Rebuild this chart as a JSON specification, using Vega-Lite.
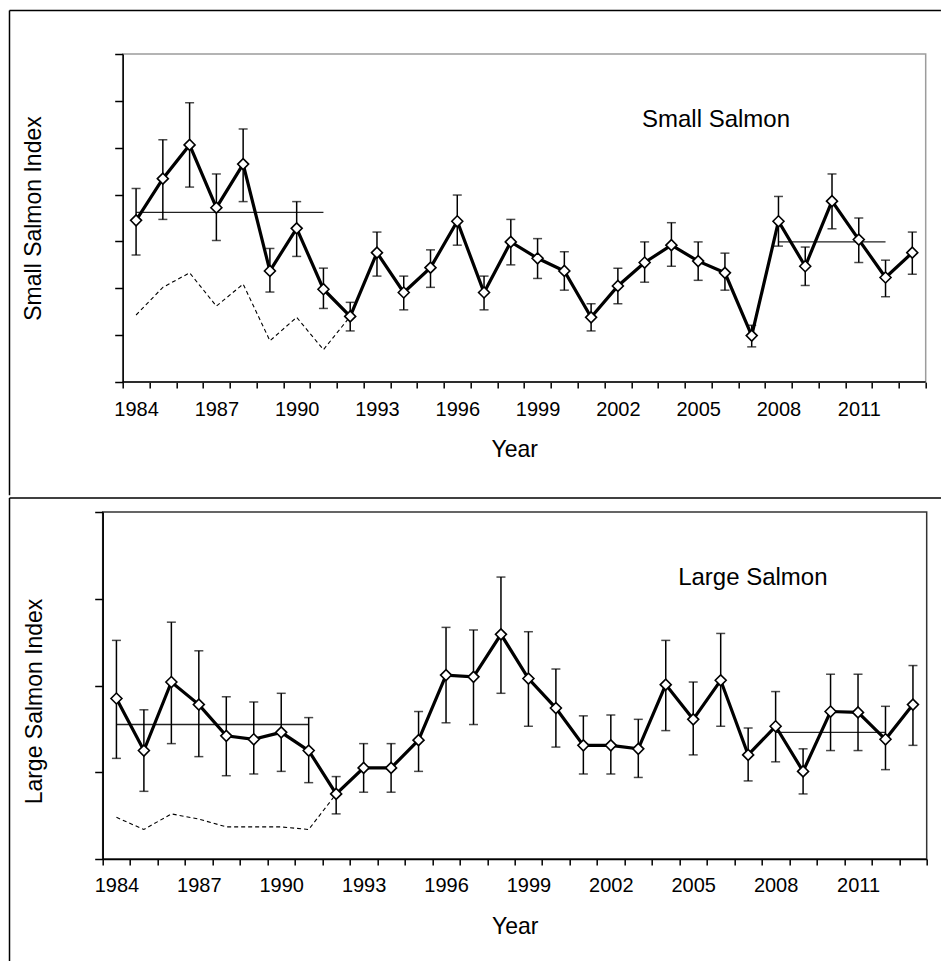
{
  "$schema": "https://vega.github.io/schema/vega-lite/v6.json",
  "background": "white",
  "padding": {"left": 7.7, "top": 9, "right": 0, "bottom": 0},
  "spacing": 0,
  "config": {
    "font": "Liberation Sans",
    "view": {"stroke": null},
    "axis": {
      "labelFont": "Liberation Sans",
      "titleFont": "Liberation Sans",
      "labelFontSize": 20,
      "titleFontSize": 23,
      "titleFontWeight": "normal",
      "labelColor": "black",
      "titleColor": "black",
      "tickColor": "black",
      "domainColor": "black",
      "tickWidth": 1.5,
      "domainWidth": 1.5,
      "labelOverlap": false,
      "labelFlush": false,
      "grid": false
    }
  },
  "datasets": {
    "small": [
      {"year": 1984, "value": 3.45, "lo": 2.71, "hi": 4.13},
      {"year": 1985, "value": 4.34, "lo": 3.47, "hi": 5.17},
      {"year": 1986, "value": 5.06, "lo": 4.16, "hi": 5.96},
      {"year": 1987, "value": 3.72, "lo": 3.02, "hi": 4.44},
      {"year": 1988, "value": 4.65, "lo": 3.85, "hi": 5.40},
      {"year": 1989, "value": 2.37, "lo": 1.92, "hi": 2.85},
      {"year": 1990, "value": 3.28, "lo": 2.68, "hi": 3.85},
      {"year": 1991, "value": 1.98, "lo": 1.57, "hi": 2.43},
      {"year": 1992, "value": 1.40, "lo": 1.09, "hi": 1.70},
      {"year": 1993, "value": 2.76, "lo": 2.26, "hi": 3.20},
      {"year": 1994, "value": 1.91, "lo": 1.54, "hi": 2.26},
      {"year": 1995, "value": 2.44, "lo": 2.02, "hi": 2.82},
      {"year": 1996, "value": 3.43, "lo": 2.92, "hi": 3.99},
      {"year": 1997, "value": 1.91, "lo": 1.54, "hi": 2.26},
      {"year": 1998, "value": 2.99, "lo": 2.50, "hi": 3.47},
      {"year": 1999, "value": 2.64, "lo": 2.21, "hi": 3.06},
      {"year": 2000, "value": 2.37, "lo": 1.96, "hi": 2.78},
      {"year": 2001, "value": 1.38, "lo": 1.09, "hi": 1.67},
      {"year": 2002, "value": 2.05, "lo": 1.67, "hi": 2.43},
      {"year": 2003, "value": 2.55, "lo": 2.13, "hi": 2.99},
      {"year": 2004, "value": 2.92, "lo": 2.47, "hi": 3.40},
      {"year": 2005, "value": 2.58, "lo": 2.17, "hi": 2.99},
      {"year": 2006, "value": 2.33, "lo": 1.96, "hi": 2.75},
      {"year": 2007, "value": 0.99, "lo": 0.75, "hi": 1.21},
      {"year": 2008, "value": 3.43, "lo": 2.90, "hi": 3.96},
      {"year": 2009, "value": 2.47, "lo": 2.06, "hi": 2.88},
      {"year": 2010, "value": 3.86, "lo": 3.27, "hi": 4.44},
      {"year": 2011, "value": 3.04, "lo": 2.55, "hi": 3.50},
      {"year": 2012, "value": 2.23, "lo": 1.82, "hi": 2.60},
      {"year": 2013, "value": 2.76, "lo": 2.30, "hi": 3.20}
    ],
    "small_dashed": [
      {"year": 1984, "value": 1.43},
      {"year": 1985, "value": 2.02},
      {"year": 1986, "value": 2.33},
      {"year": 1987, "value": 1.62},
      {"year": 1988, "value": 2.09},
      {"year": 1989, "value": 0.88},
      {"year": 1990, "value": 1.38},
      {"year": 1991, "value": 0.69},
      {"year": 1992, "value": 1.40}
    ],
    "small_means": [
      {"start": 1984, "end": 1991, "mean": 3.62},
      {"start": 2008, "end": 2012, "mean": 2.99}
    ],
    "large": [
      {"year": 1984, "value": 1.85, "lo": 1.16, "hi": 2.52},
      {"year": 1985, "value": 1.25, "lo": 0.78, "hi": 1.72},
      {"year": 1986, "value": 2.04, "lo": 1.33, "hi": 2.73},
      {"year": 1987, "value": 1.78, "lo": 1.18, "hi": 2.40},
      {"year": 1988, "value": 1.42, "lo": 0.96, "hi": 1.87},
      {"year": 1989, "value": 1.38, "lo": 0.98, "hi": 1.81},
      {"year": 1990, "value": 1.46, "lo": 1.01, "hi": 1.91},
      {"year": 1991, "value": 1.25, "lo": 0.88, "hi": 1.63},
      {"year": 1992, "value": 0.75, "lo": 0.52, "hi": 0.95},
      {"year": 1993, "value": 1.05, "lo": 0.77, "hi": 1.33},
      {"year": 1994, "value": 1.05, "lo": 0.77, "hi": 1.33},
      {"year": 1995, "value": 1.37, "lo": 1.01, "hi": 1.70},
      {"year": 1996, "value": 2.12, "lo": 1.57, "hi": 2.67},
      {"year": 1997, "value": 2.10, "lo": 1.55, "hi": 2.64},
      {"year": 1998, "value": 2.59, "lo": 1.91, "hi": 3.25},
      {"year": 1999, "value": 2.08, "lo": 1.53, "hi": 2.62},
      {"year": 2000, "value": 1.74, "lo": 1.29, "hi": 2.19},
      {"year": 2001, "value": 1.31, "lo": 0.98, "hi": 1.65},
      {"year": 2002, "value": 1.31, "lo": 0.98, "hi": 1.66},
      {"year": 2003, "value": 1.27, "lo": 0.94, "hi": 1.61},
      {"year": 2004, "value": 2.01, "lo": 1.48, "hi": 2.52},
      {"year": 2005, "value": 1.61, "lo": 1.20, "hi": 2.04},
      {"year": 2006, "value": 2.06, "lo": 1.53, "hi": 2.60},
      {"year": 2007, "value": 1.20, "lo": 0.90, "hi": 1.51},
      {"year": 2008, "value": 1.53, "lo": 1.12, "hi": 1.93},
      {"year": 2009, "value": 1.01, "lo": 0.75, "hi": 1.27},
      {"year": 2010, "value": 1.70, "lo": 1.25, "hi": 2.13},
      {"year": 2011, "value": 1.69, "lo": 1.25, "hi": 2.13},
      {"year": 2012, "value": 1.38, "lo": 1.03, "hi": 1.76},
      {"year": 2013, "value": 1.78, "lo": 1.31, "hi": 2.23}
    ],
    "large_dashed": [
      {"year": 1984, "value": 0.48},
      {"year": 1985, "value": 0.34},
      {"year": 1986, "value": 0.52},
      {"year": 1987, "value": 0.46},
      {"year": 1988, "value": 0.37},
      {"year": 1989, "value": 0.37},
      {"year": 1990, "value": 0.37},
      {"year": 1991, "value": 0.34},
      {"year": 1992, "value": 0.75}
    ],
    "large_means": [
      {"start": 1984, "end": 1991, "mean": 1.55},
      {"start": 2008, "end": 2012, "mean": 1.46}
    ]
  },
  "vconcat": [
    {
      "width": 823,
      "height": 328,
      "view": {"stroke": null},
      "resolve": {"axis": {"x": "independent"}},
      "layer": [
        {
          "data": {"values": [{}]},
          "mark": {"type": "rule", "stroke": "black", "strokeWidth": 1.5, "clip": false},
          "encoding": {
            "x": {"datum": 1979.271, "type": "quantitative", "axis": null, "scale": {"domain": [1982.753, 2013.5], "nice": false, "zero": false}},
            "x2": {"datum": 2014.07},
            "y": {"datum": 7.928, "type": "quantitative", "scale": {"domain": [0, 7], "nice": false, "zero": false}}
          }
        },
        {
          "data": {"values": [{}]},
          "mark": {"type": "rule", "stroke": "black", "strokeWidth": 1.5, "clip": false},
          "encoding": {
            "x": {"datum": 1979.271, "type": "quantitative", "axis": null, "scale": {"domain": [1982.753, 2013.5], "nice": false, "zero": false}},
            "y": {"datum": 7.928, "type": "quantitative", "scale": {"domain": [0, 7], "nice": false, "zero": false}},
            "y2": {"datum": -2.4148}
          }
        },
        {
          "data": {"values": [{}]},
          "mark": {"type": "rect", "fillOpacity": 0, "stroke": "#9c9c9c", "strokeWidth": 1.5, "clip": false},
          "encoding": {
            "x": {"datum": 1983.5, "type": "quantitative", "axis": null, "scale": {"domain": [1982.753, 2013.5], "nice": false, "zero": false}},
            "x2": {"datum": 2013.5},
            "y": {"datum": 0, "type": "quantitative", "scale": {"domain": [0, 7], "nice": false, "zero": false}},
            "y2": {"datum": 7}
          }
        },
        {
          "data": {"values": [{}]},
          "mark": {"type": "rule", "stroke": "black", "strokeWidth": 1.5, "clip": false},
          "encoding": {
            "x": {"datum": 1983.5, "type": "quantitative", "axis": null, "scale": {"domain": [1982.753, 2013.5], "nice": false, "zero": false}},
            "x2": {"datum": 2013.5},
            "y": {"datum": 0, "type": "quantitative", "scale": {"domain": [0, 7], "nice": false, "zero": false}}
          }
        },
        {
          "data": {"name": "small_means"},
          "mark": {"type": "rule", "stroke": "#222", "strokeWidth": 1.4},
          "encoding": {
            "x": {"field": "start", "type": "quantitative", "axis": null, "scale": {"domain": [1982.753, 2013.5], "nice": false, "zero": false}},
            "x2": {"field": "end"},
            "y": {"field": "mean", "type": "quantitative", "scale": {"domain": [0, 7], "nice": false, "zero": false}}
          }
        },
        {
          "data": {"name": "small_dashed"},
          "mark": {"type": "line", "stroke": "black", "strokeWidth": 1.1, "strokeDash": [4, 3]},
          "encoding": {
            "x": {
              "field": "year",
              "type": "quantitative",
              "scale": {"domain": [1982.753, 2013.5], "nice": false, "zero": false},
              "axis": {
                "orient": "bottom",
                "title": null,
                "values": [1984, 1987, 1990, 1993, 1996, 1999, 2002, 2005, 2008, 2011],
                "format": "d",
                "domain": false,
                "tickSize": 6,
                "tickOpacity": 0,
                "labelPadding": 11,
                "labelFlush": false,
                "labelOverlap": false,
                "labelBound": false
              }
            },
            "y": {"field": "value", "type": "quantitative", "scale": {"domain": [0, 7], "nice": false, "zero": false}}
          }
        },
        {
          "data": {"name": "small"},
          "encoding": {
            "x": {
              "field": "year",
              "type": "quantitative",
              "scale": {"domain": [1982.753, 2013.5], "nice": false, "zero": false},
              "axis": {
                "orient": "bottom",
                "title": "Year",
                "values": [1983.5, 1984.5, 1985.5, 1986.5, 1987.5, 1988.5, 1989.5, 1990.5, 1991.5, 1992.5, 1993.5, 1994.5, 1995.5, 1996.5, 1997.5, 1998.5, 1999.5, 2000.5, 2001.5, 2002.5, 2003.5, 2004.5, 2005.5, 2006.5, 2007.5, 2008.5, 2009.5, 2010.5, 2011.5, 2012.5, 2013.5],
                "domain": false,
                "labels": false,
                "tickSize": 6,
                "titlePadding": 50
              }
            },
            "y": {
              "field": "value",
              "type": "quantitative",
              "scale": {"domain": [0, 7], "nice": false, "zero": false},
              "axis": {
                "title": "Small Salmon Index",
                "values": [0, 1, 2, 3, 4, 5, 6, 7],
                "labels": false,
                "tickSize": 8,
                "offset": -20,
                "zindex": 1,
                "titlePadding": 68
              }
            }
          },
          "layer": [
            {
              "mark": {"type": "rule", "stroke": "black", "strokeWidth": 1.5},
              "encoding": {"y": {"field": "lo", "type": "quantitative", "scale": {"domain": [0, 7], "nice": false, "zero": false}}, "y2": {"field": "hi"}}
            },
            {
              "mark": {"type": "tick", "orient": "horizontal", "color": "black", "size": 9, "thickness": 1.5},
              "encoding": {"y": {"field": "lo", "type": "quantitative", "scale": {"domain": [0, 7], "nice": false, "zero": false}}}
            },
            {
              "mark": {"type": "tick", "orient": "horizontal", "color": "black", "size": 9, "thickness": 1.5},
              "encoding": {"y": {"field": "hi", "type": "quantitative", "scale": {"domain": [0, 7], "nice": false, "zero": false}}}
            },
            {"mark": {"type": "line", "stroke": "black", "strokeWidth": 3.2}},
            {"mark": {"type": "point", "shape": "diamond", "filled": true, "fill": "white", "stroke": "black", "strokeWidth": 1.6, "size": 120, "opacity": 1}}
          ]
        },
        {
          "data": {"values": [{}]},
          "mark": {"type": "text", "fontSize": 24, "font": "Liberation Sans", "color": "black", "align": "center", "baseline": "middle"},
          "encoding": {
            "x": {"datum": 2005.666, "type": "quantitative", "axis": null, "scale": {"domain": [1982.753, 2013.5], "nice": false, "zero": false}},
            "y": {"datum": 5.591, "type": "quantitative", "scale": {"domain": [0, 7], "nice": false, "zero": false}},
            "text": {"value": "Small Salmon"}
          }
        }
      ]
    },
    {
      "width": 824,
      "height": 347,
      "view": {"stroke": "#333", "strokeWidth": 1.5},
      "resolve": {"axis": {"x": "independent"}},
      "layer": [
        {
          "data": {"values": [{}]},
          "mark": {"type": "rule", "stroke": "black", "strokeWidth": 1.5, "clip": false},
          "encoding": {
            "x": {"datum": 1980.107, "type": "quantitative", "axis": null, "scale": {"domain": [1983.5, 2013.5], "nice": false, "zero": false}},
            "x2": {"datum": 2014.02},
            "y": {"datum": 4.1614, "type": "quantitative", "scale": {"domain": [0, 4], "nice": false, "zero": false}}
          }
        },
        {
          "data": {"values": [{}]},
          "mark": {"type": "rule", "stroke": "black", "strokeWidth": 1.5, "clip": false},
          "encoding": {
            "x": {"datum": 1980.107, "type": "quantitative", "axis": null, "scale": {"domain": [1983.5, 2013.5], "nice": false, "zero": false}},
            "y": {"datum": 4.1614, "type": "quantitative", "scale": {"domain": [0, 4], "nice": false, "zero": false}},
            "y2": {"datum": -1.1758}
          }
        },
        {
          "data": {"name": "large_means"},
          "mark": {"type": "rule", "stroke": "#222", "strokeWidth": 1.4},
          "encoding": {
            "x": {"field": "start", "type": "quantitative", "axis": null, "scale": {"domain": [1983.5, 2013.5], "nice": false, "zero": false}},
            "x2": {"field": "end"},
            "y": {"field": "mean", "type": "quantitative", "scale": {"domain": [0, 4], "nice": false, "zero": false}}
          }
        },
        {
          "data": {"name": "large_dashed"},
          "mark": {"type": "line", "stroke": "black", "strokeWidth": 1.1, "strokeDash": [4, 3]},
          "encoding": {
            "x": {
              "field": "year",
              "type": "quantitative",
              "scale": {"domain": [1983.5, 2013.5], "nice": false, "zero": false},
              "axis": {
                "orient": "bottom",
                "title": null,
                "values": [1984, 1987, 1990, 1993, 1996, 1999, 2002, 2005, 2008, 2011],
                "format": "d",
                "domain": false,
                "tickSize": 6,
                "tickOpacity": 0,
                "labelPadding": 11,
                "labelFlush": false,
                "labelOverlap": false,
                "labelBound": false
              }
            },
            "y": {"field": "value", "type": "quantitative", "scale": {"domain": [0, 4], "nice": false, "zero": false}}
          }
        },
        {
          "data": {"name": "large"},
          "encoding": {
            "x": {
              "field": "year",
              "type": "quantitative",
              "scale": {"domain": [1983.5, 2013.5], "nice": false, "zero": false},
              "axis": {
                "orient": "bottom",
                "title": "Year",
                "values": [1983.5, 1984.5, 1985.5, 1986.5, 1987.5, 1988.5, 1989.5, 1990.5, 1991.5, 1992.5, 1993.5, 1994.5, 1995.5, 1996.5, 1997.5, 1998.5, 1999.5, 2000.5, 2001.5, 2002.5, 2003.5, 2004.5, 2005.5, 2006.5, 2007.5, 2008.5, 2009.5, 2010.5, 2011.5, 2012.5, 2013.5],
                "labels": false,
                "tickSize": 6,
                "titlePadding": 50,
                "zindex": 1
              }
            },
            "y": {
              "field": "value",
              "type": "quantitative",
              "scale": {"domain": [0, 4], "nice": false, "zero": false},
              "axis": {
                "title": "Large Salmon Index",
                "values": [0, 1, 2, 3, 4],
                "labels": false,
                "tickSize": 8,
                "zindex": 1,
                "titlePadding": 46,
                "titleX": -56,
                "titleY": 189
              }
            }
          },
          "layer": [
            {
              "mark": {"type": "rule", "stroke": "black", "strokeWidth": 1.5},
              "encoding": {"y": {"field": "lo", "type": "quantitative", "scale": {"domain": [0, 4], "nice": false, "zero": false}}, "y2": {"field": "hi"}}
            },
            {
              "mark": {"type": "tick", "orient": "horizontal", "color": "black", "size": 9, "thickness": 1.5},
              "encoding": {"y": {"field": "lo", "type": "quantitative", "scale": {"domain": [0, 4], "nice": false, "zero": false}}}
            },
            {
              "mark": {"type": "tick", "orient": "horizontal", "color": "black", "size": 9, "thickness": 1.5},
              "encoding": {"y": {"field": "hi", "type": "quantitative", "scale": {"domain": [0, 4], "nice": false, "zero": false}}}
            },
            {"mark": {"type": "line", "stroke": "black", "strokeWidth": 3.2}},
            {"mark": {"type": "point", "shape": "diamond", "filled": true, "fill": "white", "stroke": "black", "strokeWidth": 1.6, "size": 120, "opacity": 1}}
          ]
        },
        {
          "data": {"values": [{}]},
          "mark": {"type": "text", "fontSize": 24, "font": "Liberation Sans", "color": "black", "align": "center", "baseline": "middle"},
          "encoding": {
            "x": {"datum": 2007.17, "type": "quantitative", "axis": null, "scale": {"domain": [1983.5, 2013.5], "nice": false, "zero": false}},
            "y": {"datum": 3.243, "type": "quantitative", "scale": {"domain": [0, 4], "nice": false, "zero": false}},
            "text": {"value": "Large Salmon"}
          }
        }
      ]
    }
  ]
}
